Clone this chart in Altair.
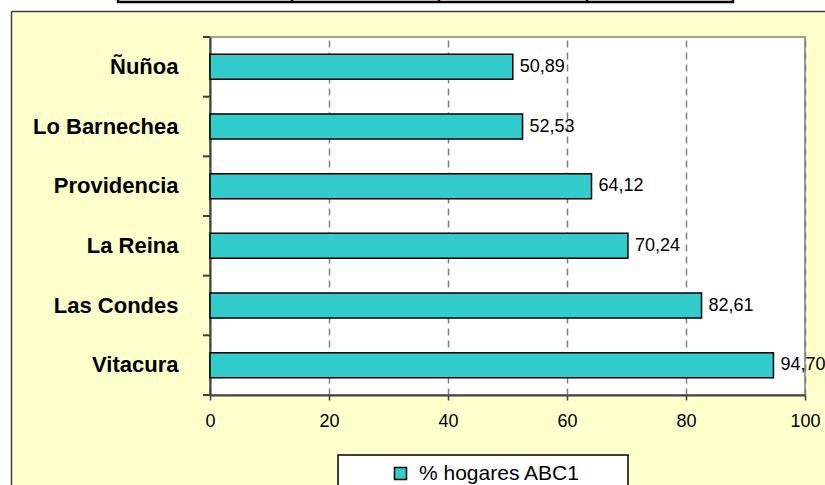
import altair as alt
import pandas as pd

# ---- data ----
comunas = ["Ñuñoa", "Lo Barnechea", "Providencia", "La Reina", "Las Condes", "Vitacura"]
valores = [50.89, 52.53, 64.12, 70.24, 82.61, 94.70]
serie = "% hogares ABC1"
x_ticks = [0, 20, 40, 60, 80, 100]

df = pd.DataFrame({"comuna": comunas, "valor": valores, "serie": serie})
one = pd.DataFrame({"k": [0]})

W, H = 595, 358
OX, OY = 210, 37
FONT = "Liberation Sans"
DARK = "#404040"

base = alt.Chart(df)

y_enc = alt.Y(
    "comuna:N", sort=comunas,
    scale=alt.Scale(paddingInner=0, paddingOuter=0),
    axis=alt.Axis(title=None, ticks=False, tickSize=0, labelFont=FONT,
                  labelFontWeight="bold", labelFontSize=22, labelColor="black",
                  labelPadding=32, domainColor=DARK, domainWidth=2),
)
x_enc = alt.X(
    "valor:Q", scale=alt.Scale(domain=[0, 100], nice=False),
    axis=alt.Axis(title=None, values=x_ticks, labelFont=FONT, labelFontSize=18,
                  labelColor="black", labelPadding=12, labelFlush=False,
                  tickSize=5, tickColor=DARK,
                  tickWidth=1.5, domainColor=DARK, domainWidth=2, grid=True,
                  gridDash=[7, 5], gridColor="#808080", gridWidth=1.5),
)

bars = base.mark_bar(stroke="black", strokeWidth=1.5, height={"band": 0.42}).encode(
    x=x_enc,
    y=y_enc,
    color=alt.Color(
        "serie:N", scale=alt.Scale(domain=[serie], range=["#33CCCC"]),
        legend=alt.Legend(title=None, orient="none", legendX=180, legendY=426,
                          symbolType="square", symbolSize=144,
                          symbolStrokeColor="black", symbolStrokeWidth=1.5,
                          labelFont=FONT, labelFontSize=21, labelColor="black",
                          labelOffset=8, labelLimit=400, padding=0),
    ),
)

labels = base.transform_calculate(
    label="replace(format(datum.valor, '.2f'), '.', ',')"
).mark_text(align="left", baseline="middle", dx=7, font=FONT, fontSize=18,
            color="black").encode(
    x="valor:Q",
    y=alt.Y("comuna:N", sort=comunas),
    text="label:N",
)

ticks = base.mark_rule(color=DARK, strokeWidth=2).encode(
    y=alt.Y("comuna:N", sort=comunas, bandPosition=0),
    x=alt.value(-7), x2=alt.value(0),
)
tick_bottom = alt.Chart(one).mark_rule(color=DARK, strokeWidth=2).encode(
    y=alt.value(H), x=alt.value(-7), x2=alt.value(0),
)

# ---- decorations (outer frame, cut-off table above, legend box) ----
white_left = alt.Chart(one).mark_rect(fill="white").encode(
    x=alt.value(-OX), x2=alt.value(-OX + 11), y=alt.value(-OY), y2=alt.value(485 - OY))
white_top = alt.Chart(one).mark_rect(fill="white").encode(
    x=alt.value(-OX), x2=alt.value(825 - OX), y=alt.value(-OY), y2=alt.value(-OY + 11))
frame_left = alt.Chart(one).mark_rule(color=DARK, strokeWidth=1.5).encode(
    x=alt.value(-OX + 11.5), y=alt.value(-OY + 11.5), y2=alt.value(485 - OY))
frame_top = alt.Chart(one).mark_rule(color=DARK, strokeWidth=1.5).encode(
    y=alt.value(-OY + 11.5), x=alt.value(-OX + 11.5), x2=alt.value(825 - OX))
table_box = alt.Chart(one).mark_rect(fill=None, stroke="black", strokeWidth=2.5).encode(
    x=alt.value(118 - OX), x2=alt.value(733 - OX), y=alt.value(-OY - 10), y2=alt.value(2 - OY))
div_data = pd.DataFrame({"d": [292 - OX, 439 - OX, 587 - OX]})
table_divs = alt.Chart(div_data).mark_rule(color="black", strokeWidth=2.5).encode(
    x=alt.X("d:Q", scale=None), y=alt.value(-OY - 5), y2=alt.value(2 - OY))
legend_box = alt.Chart(one).mark_rect(fill="white", stroke="black", strokeWidth=1.5).encode(
    x=alt.value(338 - OX), x2=alt.value(628 - OX), y=alt.value(455 - OY), y2=alt.value(520 - OY))

chart = alt.layer(
    white_left, white_top, frame_left, frame_top, table_box, table_divs, legend_box,
    bars, labels, ticks, tick_bottom,
).properties(
    width=W, height=H,
    background="#FFFFCC",
    padding={"left": OX, "top": OY, "right": 825 - OX - W, "bottom": 485 - OY - H},
    autosize=alt.AutoSizeParams(type="none"),
).configure_view(fill="white", stroke="#808080", strokeWidth=1.5)

chart.save("out.html", embed_options={"renderer": "svg", "actions": False})
